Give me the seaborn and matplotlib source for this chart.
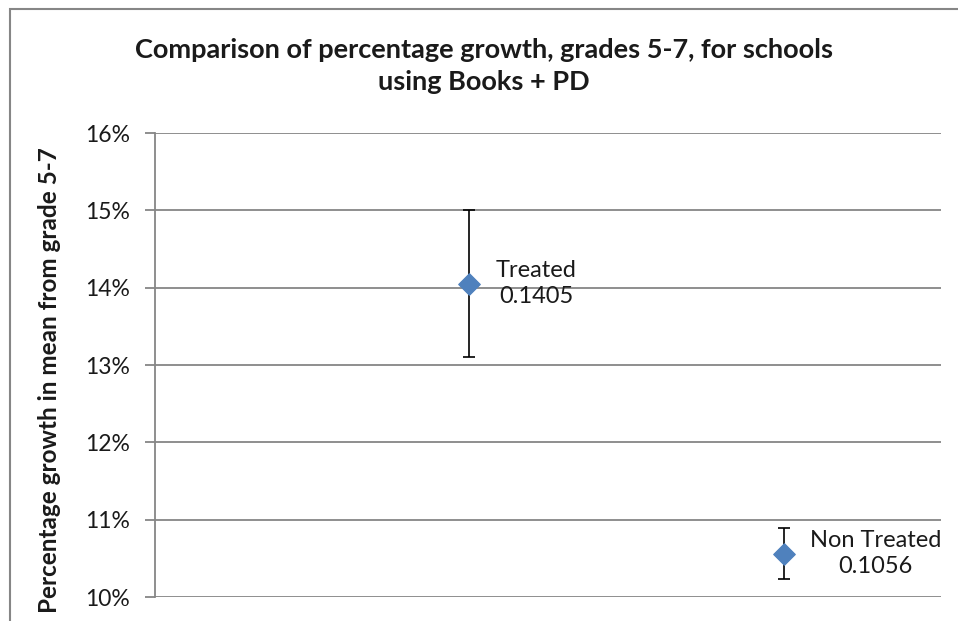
import matplotlib.pyplot as plt
import seaborn as sns
import pandas as pd
from matplotlib.patches import Rectangle

# data
groups = ["Treated", "Non Treated"]
x_pos = [1, 2]
growth = [0.1405, 0.1056]
err = [0.0095, 0.0033]
yticks = [0.10, 0.11, 0.12, 0.13, 0.14, 0.15, 0.16]

df = pd.DataFrame({"group": groups, "x": x_pos, "growth": growth, "err": err})

sns.set_theme(style="white")
plt.rcParams['font.family'] = ['Lato', 'DejaVu Sans']

W, H = 958, 621
fig = plt.figure(figsize=(W / 100, H / 100), dpi=100)
ax = fig.add_axes([155 / W, 24 / H, 786 / W, 464 / H])

# outer chart border, cut off at right and bottom like the reference
fig.patches.append(Rectangle((10 / W, -0.1), 1.0, (612 / H) + 0.1,
                             transform=fig.transFigure, fill=False,
                             edgecolor="#868686", linewidth=1.5))

ax.errorbar(df["x"], df["growth"], yerr=df["err"], fmt="none",
            ecolor="black", elinewidth=1.2, capsize=4.5, capthick=1.2, zorder=3)
sns.scatterplot(data=df, x="x", y="growth", ax=ax, marker="D", s=120,
                color="#4F81BD", edgecolor="#4F81BD", zorder=4, legend=False)

offsets = {"Treated": 48, "Non Treated": 66}
for _, r in df.iterrows():
    ax.annotate(f"{r['group']}\n{r['growth']:.4f}", (r["x"], r["growth"]),
                xytext=(offsets[r["group"]], 0),
                textcoords="offset points", ha="center", va="center",
                fontsize=17, color="#1a1a1a", linespacing=1.3)

ax.set_xlim(0, 2.5)
ax.set_ylim(0.10, 0.16)
ax.set_yticks(yticks)
ax.set_yticklabels([f"{int(round(v * 100))}%" for v in yticks], fontsize=16.5)
ax.set_xticks([])
ax.yaxis.grid(True, color="#868686", linewidth=1.3)
ax.set_axisbelow(True)
for s in ["top", "right", "bottom"]:
    ax.spines[s].set_visible(False)
ax.spines["left"].set_color("#868686")
ax.spines["left"].set_linewidth(1.3)
ax.tick_params(axis="y", which="major", left=True, length=7, width=1.3,
               color="#868686", pad=11, labelcolor="#1a1a1a")
ax.set_xlabel("")
ax.set_ylabel("Percentage growth in mean from grade 5-7", fontsize=17.5,
              fontweight="bold", color="#1a1a1a")
ax.yaxis.set_label_coords(-0.1196, 0.468)

fig.text(0.505, 1 - 66 / H,
         "Comparison of percentage growth, grades 5-7, for schools\nusing Books + PD",
         ha="center", va="center", fontsize=19.5, fontweight="bold",
         color="#1a1a1a", linespacing=1.35)

fig.savefig("out.png", dpi=100, facecolor="white")
